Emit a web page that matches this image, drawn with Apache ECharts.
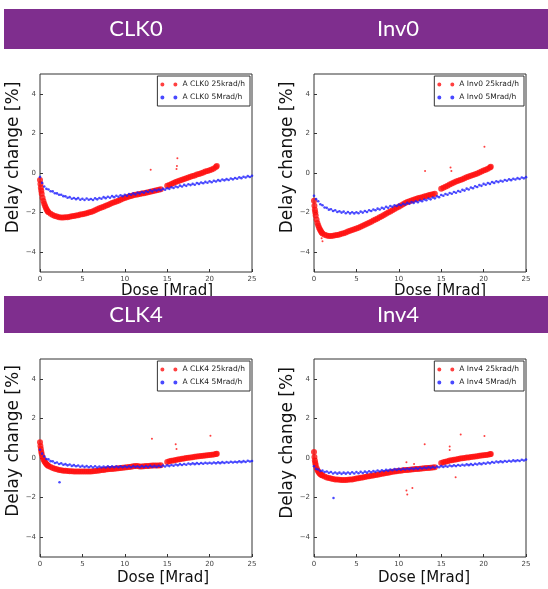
<!DOCTYPE html>
<html><head><meta charset="utf-8">
<script src="https://cdn.jsdelivr.net/npm/echarts@6/dist/echarts.min.js"></script>
<style>html,body{margin:0;padding:0;background:#fff}#c{width:548px;height:589px}</style>
</head><body><div id="c"></div>
<script>
const panelTitles = ['CLK0', 'Inv0', 'CLK4', 'Inv4'];
const xTicks = [0, 5, 10, 15, 20, 25];
const yTicks = [-4, -2, 0, 2, 4];

const redDose = [0,0.05,0.1,0.15,0.2,0.3,0.4,0.5,0.6,0.7,0.8,0.9,1,
1.25,1.5,1.75,2,2.25,2.5,2.75,3,3.25,3.5,3.75,4,4.25,4.5,4.75,5,5.25,5.5,5.75,6,6.25,6.5,6.75,7,7.25,7.5,7.75,8,8.25,8.5,8.75,9,9.25,9.5,9.75,10,10.25,10.5,10.75,11,11.25,11.5,11.75,12,12.25,12.5,12.75,13,13.25,13.5,13.75,14,14.25,
15,15.25,15.5,15.75,16,16.25,16.5,16.75,17,17.25,17.5,17.75,18,18.25,18.5,18.75,19,19.25,19.5,19.75,20,20.25,20.5,20.75,20.85];

const blueDose = [0,0.25,0.5,0.75,1,1.25,1.5,1.75,2,2.25,2.5,2.75,3,3.25,3.5,3.75,4,4.25,4.5,4.75,5,5.25,5.5,5.75,6,6.25,6.5,6.75,7,7.25,7.5,7.75,8,8.25,8.5,8.75,9,9.25,9.5,9.75,10,10.25,10.5,10.75,11,11.25,11.5,11.75,12,12.25,12.5,12.75,13,13.25,13.5,13.75,14,14.25,14.5,14.75,15,15.25,15.5,15.75,16,16.25,16.5,16.75,17,17.25,17.5,17.75,18,18.25,18.5,18.75,19,19.25,19.5,19.75,20,20.25,20.5,20.75,21,21.25,21.5,21.75,22,22.25,22.5,22.75,23,23.25,23.5,23.75,24,24.25,24.5,24.75,25];

// 25 krad/h (red) delay change [%]
const clk0Red = [-0.35,-0.55,-0.75,-0.9,-1.05,-1.25,-1.42,-1.55,-1.67,-1.77,-1.86,-1.93,-1.98,
-2.06,-2.12,-2.17,-2.2,-2.23,-2.25,-2.25,-2.24,-2.23,-2.21,-2.19,-2.17,-2.15,-2.13,-2.1,-2.08,-2.06,-2.03,-2.0,-1.97,-1.93,-1.88,-1.83,-1.78,-1.74,-1.7,-1.66,-1.61,-1.57,-1.52,-1.48,-1.44,-1.4,-1.35,-1.3,-1.26,-1.22,-1.19,-1.16,-1.13,-1.1,-1.08,-1.06,-1.04,-1.02,-1.0,-0.97,-0.95,-0.92,-0.9,-0.87,-0.84,-0.82,
-0.65,-0.6,-0.55,-0.5,-0.46,-0.42,-0.38,-0.34,-0.3,-0.27,-0.23,-0.19,-0.15,-0.12,-0.08,-0.05,-0.01,0.03,0.07,0.1,0.14,0.18,0.23,0.3,0.35];
const inv0Red = [-1.4,-1.65,-1.85,-2.0,-2.15,-2.35,-2.52,-2.65,-2.76,-2.85,-2.93,-3.0,-3.05,
-3.12,-3.16,-3.18,-3.18,-3.17,-3.15,-3.13,-3.1,-3.07,-3.04,-3.0,-2.96,-2.92,-2.88,-2.84,-2.8,-2.76,-2.71,-2.66,-2.61,-2.56,-2.51,-2.46,-2.4,-2.35,-2.3,-2.24,-2.18,-2.12,-2.06,-2.0,-1.94,-1.88,-1.82,-1.76,-1.7,-1.64,-1.58,-1.52,-1.47,-1.43,-1.39,-1.35,-1.31,-1.28,-1.25,-1.22,-1.19,-1.16,-1.13,-1.1,-1.07,-1.05,
-0.8,-0.74,-0.69,-0.64,-0.58,-0.53,-0.48,-0.43,-0.39,-0.35,-0.31,-0.27,-0.22,-0.18,-0.14,-0.1,-0.06,-0.02,0.03,0.07,0.12,0.17,0.22,0.28,0.32];
const clk4Red = [0.8,0.6,0.45,0.32,0.2,0.05,-0.06,-0.15,-0.22,-0.28,-0.33,-0.37,-0.4,
-0.46,-0.5,-0.54,-0.57,-0.6,-0.62,-0.64,-0.65,-0.66,-0.67,-0.67,-0.68,-0.68,-0.68,-0.68,-0.68,-0.68,-0.68,-0.68,-0.68,-0.67,-0.66,-0.65,-0.63,-0.61,-0.6,-0.58,-0.57,-0.56,-0.55,-0.54,-0.53,-0.52,-0.5,-0.49,-0.48,-0.47,-0.46,-0.44,-0.42,-0.4,-0.41,-0.43,-0.43,-0.42,-0.41,-0.4,-0.39,-0.38,-0.38,-0.38,-0.38,-0.37,
-0.2,-0.17,-0.14,-0.12,-0.1,-0.08,-0.06,-0.04,-0.02,0,0.01,0.03,0.04,0.06,0.07,0.09,0.1,0.11,0.13,0.14,0.15,0.17,0.18,0.2,0.21];
const inv4Red = [0.3,0.05,-0.12,-0.25,-0.35,-0.5,-0.6,-0.68,-0.74,-0.79,-0.83,-0.86,-0.89,
-0.94,-0.98,-1.01,-1.04,-1.06,-1.08,-1.09,-1.1,-1.11,-1.11,-1.11,-1.1,-1.09,-1.08,-1.06,-1.04,-1.02,-1.0,-0.98,-0.96,-0.94,-0.92,-0.9,-0.88,-0.86,-0.84,-0.82,-0.8,-0.78,-0.76,-0.74,-0.72,-0.7,-0.68,-0.67,-0.65,-0.64,-0.62,-0.61,-0.6,-0.59,-0.58,-0.57,-0.56,-0.55,-0.54,-0.53,-0.52,-0.51,-0.5,-0.49,-0.48,-0.47,
-0.25,-0.22,-0.19,-0.16,-0.13,-0.11,-0.09,-0.07,-0.05,-0.03,-0.01,0,0.02,0.03,0.05,0.06,0.08,0.09,0.11,0.12,0.14,0.15,0.17,0.19,0.2];

// 5 Mrad/h (blue) delay change [%]
const clk0Blue = [-0.2,-0.5,-0.68,-0.8,
-0.83,-0.92,-0.93,-1.02, -1.03,-1.1,-1.1,-1.17, -1.18,-1.25,-1.22,-1.3, -1.26,-1.32,-1.27,-1.35,
-1.3,-1.36,-1.29,-1.35, -1.31,-1.36,-1.28,-1.33, -1.26,-1.3,-1.22,-1.27, -1.2,-1.25,-1.17,-1.22,
-1.15,-1.2,-1.12,-1.17, -1.1,-1.15,-1.06,-1.1, -1.03,-1.08,-0.99,-1.03, -0.96,-1.0,-0.92,-0.96,
-0.88,-0.93,-0.85,-0.89, -0.83,-0.87,-0.8,-0.84, -0.77,-0.8,-0.72,-0.76, -0.68,-0.72,-0.64,-0.68,
-0.6,-0.65,-0.57,-0.61, -0.55,-0.59,-0.51,-0.55, -0.48,-0.52,-0.45,-0.49, -0.42,-0.47,-0.39,-0.43,
-0.36,-0.4,-0.33,-0.37, -0.31,-0.35,-0.28,-0.32, -0.25,-0.29,-0.22,-0.26, -0.19,-0.23,-0.16,-0.2, -0.14];
const inv0Blue = [-1.15,-1.32,-1.43,-1.58,
-1.63,-1.74,-1.76,-1.85, -1.83,-1.92,-1.88,-1.97, -1.93,-2.0,-1.95,-2.03, -1.97,-2.04,-1.98,-2.04,
-1.98,-2.03,-1.95,-2.0, -1.92,-1.97,-1.88,-1.92, -1.84,-1.88,-1.8,-1.84, -1.76,-1.8,-1.71,-1.76,
-1.67,-1.71,-1.63,-1.67, -1.59,-1.63,-1.55,-1.59, -1.51,-1.55,-1.47,-1.51, -1.43,-1.48,-1.39,-1.43,
-1.34,-1.38,-1.29,-1.33, -1.24,-1.28,-1.18,-1.22, -1.11,-1.15,-1.06,-1.1, -1.01,-1.05,-0.96,-1.0,
-0.91,-0.95,-0.85,-0.89, -0.79,-0.83,-0.73,-0.77, -0.67,-0.71,-0.61,-0.65, -0.55,-0.59,-0.51,-0.55,
-0.46,-0.5,-0.42,-0.46, -0.39,-0.43,-0.35,-0.39, -0.32,-0.36,-0.29,-0.33, -0.26,-0.3,-0.23,-0.27, -0.21];
const clk4Blue = [0.42,0.22,0.08,-0.05,
-0.07,-0.16,-0.17,-0.25, -0.23,-0.3,-0.27,-0.34, -0.31,-0.37,-0.33,-0.4, -0.36,-0.42,-0.38,-0.44,
-0.4,-0.46,-0.41,-0.47, -0.42,-0.48,-0.42,-0.48, -0.43,-0.48,-0.43,-0.48, -0.42,-0.47,-0.42,-0.47,
-0.42,-0.47,-0.42,-0.47, -0.42,-0.47,-0.42,-0.47, -0.41,-0.46,-0.42,-0.47, -0.41,-0.46,-0.41,-0.46,
-0.4,-0.45,-0.4,-0.45, -0.39,-0.44,-0.38,-0.43, -0.37,-0.41,-0.35,-0.39, -0.33,-0.37,-0.31,-0.35,
-0.3,-0.34,-0.28,-0.32, -0.27,-0.31,-0.26,-0.3, -0.25,-0.29,-0.24,-0.28, -0.24,-0.28,-0.23,-0.27,
-0.22,-0.26,-0.21,-0.25, -0.2,-0.24,-0.19,-0.23, -0.19,-0.22,-0.17,-0.21, -0.16,-0.2,-0.14,-0.18, -0.15];
const inv4Blue = [-0.42,-0.55,-0.58,-0.66,
-0.64,-0.71,-0.68,-0.75, -0.71,-0.78,-0.73,-0.79, -0.74,-0.8,-0.74,-0.79, -0.73,-0.79,-0.72,-0.78,
-0.71,-0.77,-0.7,-0.76, -0.69,-0.74,-0.67,-0.72, -0.66,-0.7,-0.63,-0.68, -0.62,-0.66,-0.6,-0.64,
-0.58,-0.62,-0.56,-0.6, -0.55,-0.59,-0.54,-0.58, -0.53,-0.57,-0.52,-0.56, -0.51,-0.55,-0.49,-0.53,
-0.48,-0.52,-0.46,-0.5, -0.45,-0.49,-0.43,-0.47, -0.41,-0.45,-0.4,-0.44, -0.38,-0.42,-0.37,-0.41,
-0.35,-0.39,-0.34,-0.38, -0.32,-0.36,-0.31,-0.35, -0.29,-0.33,-0.27,-0.31, -0.25,-0.29,-0.23,-0.27,
-0.2,-0.24,-0.18,-0.22, -0.17,-0.21,-0.15,-0.19, -0.14,-0.18,-0.12,-0.16, -0.11,-0.15,-0.09,-0.13, -0.08];

// stray points [dose, delay]
const clk0RedStray = [[13.05,0.17],[16.2,0.74],[16.1,0.2],[16.15,0.35]];
const inv0RedStray = [[13.1,0.1],[20.1,1.33],[16.1,0.28],[16.2,0.1],[1.0,-3.45],[0.9,-3.3]];
const clk4RedStray = [[13.2,0.97],[16.0,0.69],[20.1,1.13],[16.1,0.45]];
const inv4RedStray = [[13.05,0.69],[16.0,0.58],[16.0,0.4],[17.3,1.19],[20.1,1.11],[10.9,-1.64],[11.0,-1.84],[11.6,-1.52],[11.8,-0.3],[10.9,-0.22],[16.7,-0.97]];
const clk0BlueStray = [];
const inv0BlueStray = [];
const clk4BlueStray = [[2.3,-1.22]];
const inv4BlueStray = [[2.3,-2.02]];

const redSets = [clk0Red, inv0Red, clk4Red, inv4Red];
const blueSets = [clk0Blue, inv0Blue, clk4Blue, inv4Blue];
const redStray = [clk0RedStray, inv0RedStray, clk4RedStray, inv4RedStray];
const blueStray = [clk0BlueStray, inv0BlueStray, clk4BlueStray, inv4BlueStray];

const zip = (xs, ys) => xs.map((x, i) => [x, ys[i]]);
const layout = [
  {left: 40, top: 74, legRight: 298, xPad: 42, yPad: 31, xGap: 11},
  {left: 314, top: 74, legRight: 24, xPad: 40, yPad: 31, xGap: 11},
  {left: 40, top: 359, legRight: 298, xPad: 34, yPad: 34, xGap: 14},
  {left: 314, top: 359, legRight: 24, xPad: 8, yPad: 30, xGap: 14}
];
const FONT = 'DejaVu Sans';
const dotIcon = 'path://M0,2a2,2 0 1,0 4,0a2,2 0 1,0 -4,0zM13,2a2,2 0 1,0 4,0a2,2 0 1,0 -4,0z';
const minus = v => String(v).replace('-', '\u2212');

const grid = [], xAxis = [], yAxis = [], series = [], legend = [];
panelTitles.forEach((t, i) => {
  const L = layout[i];
  const redName = 'A ' + t + ' 25krad/h';
  const blueName = 'A ' + t + ' 5Mrad/h';
  grid.push({left: L.left, top: L.top, width: 212, height: 198, show: true,
    borderColor: '#333', borderWidth: 1, backgroundColor: 'transparent'});
  xAxis.push({type: 'value', gridIndex: i, min: 0, max: 25, interval: 5,
    axisLine: {show: false, onZero: false}, splitLine: {show: false},
    axisTick: {inside: true, length: 3, lineStyle: {color: '#333'}},
    axisLabel: {fontSize: 7, color: '#444', margin: 4, fontFamily: FONT,
      customValues: xTicks},
    name: 'Dose [Mrad]', nameLocation: 'middle', nameGap: L.xGap,
    nameTextStyle: {fontSize: 15, fontFamily: FONT, color: '#111', padding: [0, 0, 0, L.xPad]}});
  yAxis.push({type: 'value', gridIndex: i, min: -5, max: 5,
    axisLine: {show: false, onZero: false}, splitLine: {show: false},
    axisTick: {inside: true, length: 3, lineStyle: {color: '#333'}, customValues: yTicks},
    axisLabel: {fontSize: 7, color: '#444', margin: 4, fontFamily: FONT,
      customValues: yTicks, formatter: minus},
    name: 'Delay change [%]', nameLocation: 'middle', nameRotate: 90, nameGap: 15,
    nameTextStyle: {fontSize: 17, fontFamily: FONT, color: '#111', padding: [0, 0, 0, L.yPad]}});
  series.push({type: 'scatter', name: redName, xAxisIndex: i, yAxisIndex: i,
    data: zip(redDose, redSets[i]).concat(redStray[i].map(p => ({value: p, symbolSize: 2}))),
    symbolSize: 6, itemStyle: {color: '#ff1010'}, silent: true, animation: false});
  series.push({type: 'scatter', name: blueName, xAxisIndex: i, yAxisIndex: i,
    data: zip(blueDose, blueSets[i]).concat(blueStray[i].map(p => ({value: p, symbolSize: 2.5}))),
    symbolSize: 2.6, itemStyle: {color: '#1c1cff'}, silent: true, animation: false});
  legend.push({data: [{name: redName, icon: dotIcon}, {name: blueName, icon: dotIcon}],
    orient: 'vertical', right: L.legRight, top: L.top + 2,
    itemWidth: 17, itemHeight: 4, itemGap: 4, padding: [4, 5, 4, 3],
    borderColor: '#333', borderWidth: 1, borderRadius: 0, selectedMode: false,
    textStyle: {fontSize: 7.5, fontFamily: FONT, color: '#222', lineHeight: 9}});
});

const PURPLE = '#7f2e8e';
const graphic = [
  {type: 'rect', shape: {x: 4, y: 9, width: 544, height: 40}, style: {fill: PURPLE}, z: 100},
  {type: 'rect', shape: {x: 4, y: 296, width: 544, height: 37}, style: {fill: PURPLE}, z: 100},
  {type: 'text', x: 136, y: 29, z: 101, style: {text: panelTitles[0], fill: '#fff', font: '22px Lato', align: 'center', verticalAlign: 'middle'}},
  {type: 'text', x: 398, y: 29, z: 101, style: {text: panelTitles[1], fill: '#fff', font: '22px Lato', align: 'center', verticalAlign: 'middle'}},
  {type: 'text', x: 136, y: 315, z: 101, style: {text: panelTitles[2], fill: '#fff', font: '22px Lato', align: 'center', verticalAlign: 'middle'}},
  {type: 'text', x: 398, y: 315, z: 101, style: {text: panelTitles[3], fill: '#fff', font: '22px Lato', align: 'center', verticalAlign: 'middle'}}
];

const chart = echarts.init(document.getElementById('c'), null, {renderer: 'canvas'});
chart.setOption({animation: false, backgroundColor: '#fff', grid, xAxis, yAxis, series, legend, graphic});
</script></body></html>
